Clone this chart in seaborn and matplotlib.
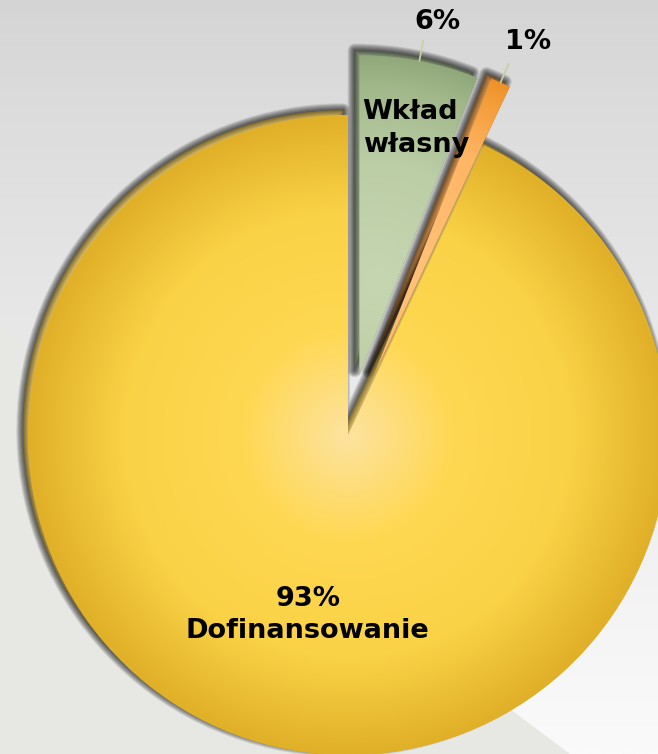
import numpy as np
import matplotlib
matplotlib.use("Agg")
import matplotlib.pyplot as plt
import matplotlib.patheffects as pe
from matplotlib.colors import LinearSegmentedColormap
from matplotlib.patches import Polygon
import seaborn as sns

# data
labels = ["Wkład\nwłasny", "", "Dofinansowanie"]
values = [6, 1, 93]
pct_labels = ["6%", "1%", "93%"]
explode = [0.19, 0.2, 0.0]

# colour stops for each slice (radial gradients) and background
grad_stops = [
    [(0, "#c6d6b1"), (0.45, "#bccea6"), (0.75, "#a0b78a"), (1, "#7b9566")],
    [(0, "#ffc27a"), (0.5, "#ffb665"), (0.8, "#f0962f"), (1, "#d5720c")],
    [(0, "#fde3a0"), (0.33, "#ffd852"), (0.7, "#fad246"), (1, "#e0b028")],
]
grad_centre = [0.3, 0.35, 0.0]   # where the light spot sits (fraction of radius)
bg_top, bg_bottom, band_col = "#d4d4d4", "#fafafa", "#e7e7e3"

sns.set_style("white")
plt.rcParams["font.family"] = ["DejaVu Sans"]

W, H, R = 658, 754, 320.0
cx, cy = 348, 435
fig = plt.figure(figsize=(W / 100, H / 100), dpi=100)
ax = fig.add_axes([0, 0, 1, 1])
xlim = (-cx / R, (W - cx) / R)
ylim = (-(H - cy) / R, cy / R)

# background
g = np.linspace(0, 1, 300)[:, None] ** 0.8
bg = LinearSegmentedColormap.from_list("bg", [bg_top, bg_bottom])(np.repeat(g, 2, axis=1))
ax.imshow(bg, extent=(*xlim, *ylim), aspect="auto", origin="upper", zorder=0)
ax.add_patch(Polygon([(0, 1 - 327 / H), (570 / W, 0), (0, 0)], closed=True,
                     transform=ax.transAxes, facecolor=band_col, edgecolor="none", zorder=0.5))

shadow = [pe.Stroke(linewidth=lw, foreground="black", alpha=0.075, offset=(-3.5, 3.5), joinstyle="round")
          for lw in np.linspace(10, 1, 11)] + [pe.Normal()]

wedges, _ = ax.pie(values, explode=explode, startangle=90, counterclock=False,
                   colors=[s[-1][1] for s in grad_stops],
                   radius=1.0, wedgeprops=dict(linewidth=0, zorder=2))

nx, ny = 330, 380
X, Y = np.meshgrid(np.linspace(*xlim, nx), np.linspace(*ylim, ny))
for w, stops, gc in zip(wedges, grad_stops, grad_centre):
    w.set_path_effects(shadow)
    mid = np.deg2rad((w.theta1 + w.theta2) / 2)
    fx = w.center[0] + gc * np.cos(mid)
    fy = w.center[1] + gc * np.sin(mid)
    d = np.hypot(X - fx, Y - fy) / (w.r * (1 - gc * 0.6))
    cmap = LinearSegmentedColormap.from_list("g", stops)
    im = ax.imshow(cmap(np.clip(d, 0, 1)), extent=(*xlim, *ylim), origin="lower",
                   aspect="auto", zorder=3, interpolation="bilinear")
    im.set_clip_path(w)

font = dict(fontsize=19.5, fontweight="bold", color="black", zorder=6)

# big slice label inside
wy = wedges[2]
mid = np.deg2rad((wy.theta1 + wy.theta2) / 2)
ax.text(0.575 * np.cos(mid), 0.575 * np.sin(mid), pct_labels[2] + "\n" + labels[2],
        ha="center", va="center", linespacing=1.3, **font)

# green slice: name inside, percent outside with leader
wg = wedges[0]
ax.text(wg.center[0] + 0.01, wg.center[1] + 0.77, labels[0], ha="left", va="center",
        linespacing=1.35, **font)
for w, pct, ang_off, r_lab in [(wedges[0], pct_labels[0], -1.7, 1.13),
                                (wedges[1], pct_labels[1], -1.5, 1.15)]:
    mid = (w.theta1 + w.theta2) / 2
    a = np.deg2rad(mid)
    ax.plot([w.center[0] + 1.0 * np.cos(a), w.center[0] + 1.065 * np.cos(a)],
            [w.center[1] + 1.0 * np.sin(a), w.center[1] + 1.065 * np.sin(a)],
            color="#c9d0a2", lw=1.2, zorder=5)
    b = np.deg2rad(mid + ang_off)
    ax.text(w.center[0] + r_lab * np.cos(b), w.center[1] + r_lab * np.sin(b), pct,
            ha="center", va="center", **font)

ax.set_xlim(*xlim)
ax.set_ylim(*ylim)
ax.set_aspect("auto")
ax.axis("off")
fig.savefig("out.png", dpi=100)
